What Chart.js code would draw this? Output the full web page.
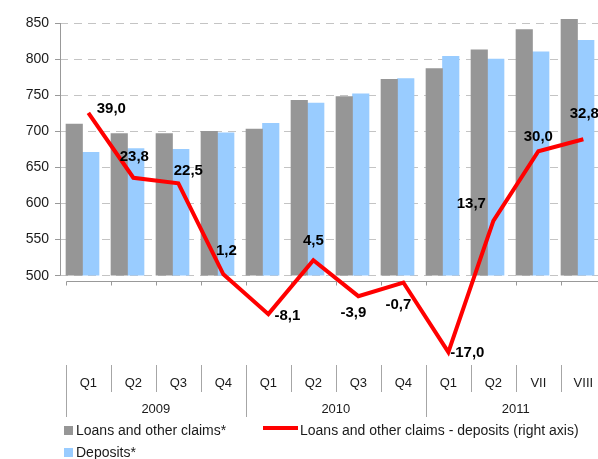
<!DOCTYPE html>
<html lang="en">
<head>
  <meta charset="UTF-8">
  <title>Loans and other claims vs deposits</title>
  <style>
    * { margin: 0; padding: 0; box-sizing: border-box; }
    body { background: #fff; width: 598px; height: 459px; overflow: hidden; }
    canvas { display: block; }
  </style>
</head>
<body>
  <canvas id="chart" width="640" height="459"></canvas>

  <script src="https://cdn.jsdelivr.net/npm/chart.js@4.4.1/dist/chart.umd.min.js"></script>
  <script>
    // data
    const periods = ['Q1', 'Q2', 'Q3', 'Q4', 'Q1', 'Q2', 'Q3', 'Q4', 'Q1', 'Q2', 'VII', 'VIII'];
    const years = ['2009', '2010', '2011'];
    const yearSpans = [4, 4, 4];
    const loans = [710, 697, 697, 700, 703, 743, 748, 772, 787, 813, 841, 855];
    const deposits = [671, 676, 675, 698, 711, 739, 752, 773, 804, 800, 810, 826];
    const difference = [39.0, 23.8, 22.5, 1.2, -8.1, 4.5, -3.9, -0.7, -17.0, 13.7, 30.0, 32.8];
    const leftTicks = [500, 550, 600, 650, 700, 750, 800, 850];

    // where each value label sits relative to its point (dx, dy)
    const labelNudge = [[23, -4], [1, -21], [10, -12], [3, -24], [19, 2], [0, -19],
                        [-5, 17], [-5, 22], [19, 1], [-22, -17], [0, -14], [1, -25]];

    const FONT = '"Liberation Sans", Arial, sans-serif';
    const fmt = v => v.toFixed(1).replace('.', ',');
    const byIndex = arr => arr.map((v, i) => ({x: i, y: v}));

    const overlay = {
      id: 'overlay',
      beforeDatasetsDraw(chart) {
        const {ctx, chartArea, scales} = chart;
        const {y, y2, x2} = scales;
        ctx.save();
        ctx.strokeStyle = '#999';
        ctx.lineWidth = 1;
        // left value axis, only over the bar range
        const ax = Math.round(chartArea.left) + 0.5;
        ctx.beginPath();
        ctx.moveTo(ax, y.getPixelForValue(leftTicks[leftTicks.length - 1]));
        ctx.lineTo(ax, y.getPixelForValue(leftTicks[0]));
        ctx.stroke();
        // category axis at zero of the right axis
        const zy = Math.round(y2.getPixelForValue(0)) + 1.5;
        const edge = i => Math.round(x2.getPixelForValue(i - 0.5)) + 0.5;
        ctx.beginPath();
        ctx.moveTo(edge(0), zy);
        ctx.lineTo(edge(periods.length), zy);
        for (let i = 0; i <= periods.length; i++) {
          ctx.moveTo(edge(i), zy);
          ctx.lineTo(edge(i), zy + 4);
        }
        ctx.stroke();
        ctx.restore();
      },
      afterDatasetsDraw(chart) {
        const {ctx} = chart;
        const meta = chart.getDatasetMeta(2);
        ctx.save();
        ctx.font = 'bold 15px ' + FONT;
        ctx.fillStyle = '#000';
        ctx.textAlign = 'center';
        ctx.textBaseline = 'middle';
        meta.data.forEach((pt, i) => {
          const [dx, dy] = labelNudge[i];
          ctx.fillText(fmt(difference[i]), pt.x + dx, pt.y + dy);
        });
        ctx.restore();
      },
      afterDraw(chart) {
        const {ctx, chartArea, scales} = chart;
        const x2 = scales.x2;
        const top = Math.round(chartArea.bottom);
        const edge = i => Math.round(x2.getPixelForValue(i - 0.5)) + 0.5;
        ctx.save();

        // two-level category table
        ctx.strokeStyle = '#a6a6a6';
        ctx.lineWidth = 1;
        const yearEdges = [0];
        yearSpans.forEach(s => yearEdges.push(yearEdges[yearEdges.length - 1] + s));
        ctx.beginPath();
        for (let i = 0; i <= periods.length; i++) {
          const full = yearEdges.includes(i);
          ctx.moveTo(edge(i), top);
          ctx.lineTo(edge(i), top + (full ? 52 : 27));
        }
        ctx.stroke();

        ctx.fillStyle = '#1a1a1a';
        ctx.textAlign = 'center';
        ctx.textBaseline = 'middle';
        ctx.font = '13px ' + FONT;
        periods.forEach((p, i) => ctx.fillText(p, x2.getPixelForValue(i), top + 18));
        years.forEach((yr, k) => {
          const mid = (yearEdges[k] + yearEdges[k + 1] - 1) / 2;
          ctx.fillText(yr, x2.getPixelForValue(mid), top + 44);
        });

        // legend
        const ds = chart.data.datasets;
        ctx.textAlign = 'left';
        ctx.font = '14px ' + FONT;
        ctx.fillStyle = ds[0].backgroundColor;
        ctx.fillRect(64, 426, 9, 9);
        ctx.fillStyle = ds[1].backgroundColor;
        ctx.fillRect(64, 448, 9, 9);
        ctx.strokeStyle = ds[2].borderColor;
        ctx.lineWidth = 4;
        ctx.beginPath();
        ctx.moveTo(263, 428);
        ctx.lineTo(298, 428);
        ctx.stroke();
        ctx.fillStyle = '#1a1a1a';
        ctx.fillText(ds[0].label, 76, 431);
        ctx.fillText(ds[2].label, 300, 431);
        ctx.fillText(ds[1].label, 76, 453);
        ctx.restore();
      }
    };

    new Chart(document.getElementById('chart'), {
      type: 'bar',
      data: {
        labels: periods,
        datasets: [
          {
            label: 'Loans and other claims*',
            data: byIndex(loans),
            backgroundColor: '#969696',
            base: 500,
            clip: false,
            barThickness: 16.5,
            xAxisID: 'x',
            yAxisID: 'y',
            order: 2
          },
          {
            label: 'Deposits*',
            data: byIndex(deposits),
            backgroundColor: '#99ccff',
            base: 500,
            clip: false,
            barThickness: 16.5,
            xAxisID: 'x',
            yAxisID: 'y',
            order: 2
          },
          {
            type: 'line',
            label: 'Loans and other claims - deposits (right axis)',
            data: byIndex(difference),
            borderColor: '#ff0000',
            borderWidth: 4,
            pointRadius: 0,
            tension: 0,
            fill: false,
            clip: false,
            xAxisID: 'x2',
            yAxisID: 'y2',
            order: 0
          }
        ]
      },
      options: {
        responsive: false,
        animation: false,
        layout: {padding: {top: 23, bottom: 94, left: 0, right: 40}},
        plugins: {legend: {display: false}, tooltip: {enabled: false}},
        scales: {
          // bar groups sit left of each index value on this axis
          x: {type: 'linear', display: false, offset: false, min: -0.8667, max: 11.1333},
          x2: {type: 'linear', display: false, offset: false, min: -0.63, max: 11.37},
          y: {
            position: 'left',
            min: 376.3,
            max: 850,
            afterBuildTicks: s => { s.ticks = leftTicks.map(v => ({value: v})); },
            afterFit: s => { s.width = 60; },
            ticks: {color: '#1a1a1a', font: {family: FONT, size: 14}, padding: 6},
            grid: {color: '#c4c4c4', tickColor: '#999', tickLength: 5, tickBorderDash: []},
            border: {display: false, dash: [8, 6]}
          },
          y2: {position: 'right', display: false, min: -20, max: 60}
        }
      },
      plugins: [overlay]
    });
  </script>
</body>
</html>
